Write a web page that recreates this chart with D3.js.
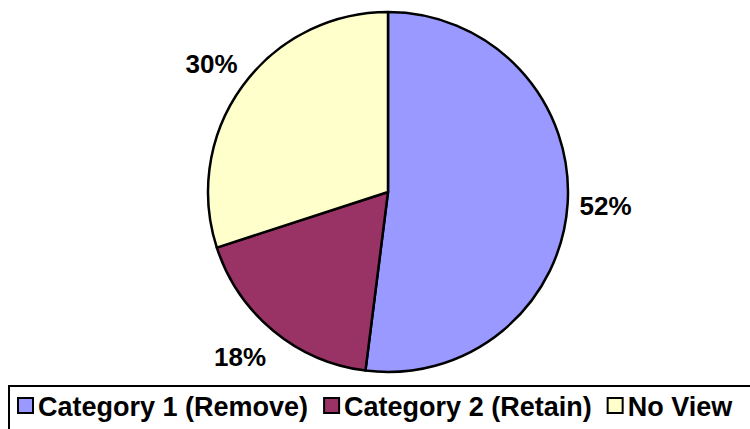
<!DOCTYPE html>
<html><head><meta charset="utf-8">
<script src="https://cdn.jsdelivr.net/npm/d3@7"></script>
<style>body{margin:0;background:#fff;}svg{display:block;}</style>
</head><body>
<svg id="chart" width="750" height="429"></svg>
<script>
const categories = ["Category 1 (Remove)", "Category 2 (Retain)", "No View"];
const values = [52, 18, 30];
const labels = ["52%", "18%", "30%"];
const colors = ["#9999FF", "#993366", "#FFFFCC"];

const svg = d3.select("#chart");
const cx = 388, cy = 192, r = 180;
const font = "'Liberation Sans', Arial, sans-serif";

const pie = d3.pie().sort(null).value(d => d)(values);
const arc = d3.arc().innerRadius(0).outerRadius(r);
const g = svg.append("g").attr("transform", `translate(${cx},${cy})`);
g.selectAll("path").data(pie).join("path")
  .attr("d", arc)
  .attr("fill", (d, i) => colors[i])
  .attr("stroke", "#000").attr("stroke-width", 2.5).attr("stroke-linejoin", "round");

const labelArc = d3.arc().innerRadius(218).outerRadius(218);
const nudge = [[0, 0], [-9, -3], [0, 0]];
g.selectAll("text").data(pie).join("text")
  .attr("transform", (d, i) => {
    const [px, py] = labelArc.centroid(d);
    return `translate(${px + nudge[i][0]},${py + nudge[i][1]})`;
  })
  .attr("text-anchor", "middle").attr("dy", "0.36em")
  .attr("font-family", font).attr("font-weight", "bold").attr("font-size", 26)
  .text((d, i) => labels[i]);

// legend
svg.append("rect").attr("x", 9).attr("y", 386).attr("width", 800).attr("height", 100)
  .attr("fill", "#fff").attr("stroke", "#000").attr("stroke-width", 2);
let x = 18;
categories.forEach((c, i) => {
  svg.append("rect").attr("x", x).attr("y", 398).attr("width", 15).attr("height", 15)
    .attr("fill", colors[i]).attr("stroke", "#000").attr("stroke-width", 2);
  const t = svg.append("text").attr("x", x + 20).attr("y", 416)
    .attr("font-family", font).attr("font-weight", "bold").attr("font-size", 27)
    .text(c);
  x += 20 + t.node().getComputedTextLength() + 16;
});
</script>
</body></html>
